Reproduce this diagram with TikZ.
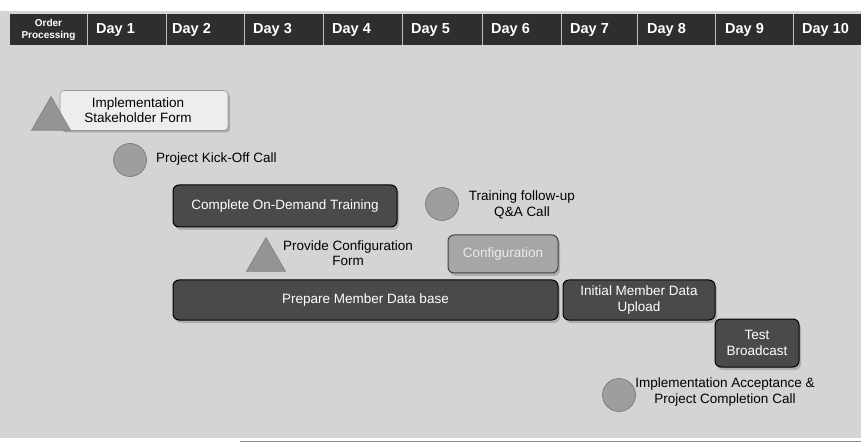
\documentclass[tikz,border=0pt]{standalone}
\usepackage{fontspec}
\setmainfont{Liberation Sans}
\usetikzlibrary{shadows,shapes.geometric}
\definecolor{bg}{HTML}{D4D4D4}
\definecolor{hdr}{HTML}{2E2E2E}
\definecolor{darkbox}{HTML}{4A4A4A}
\definecolor{lightbox}{HTML}{A6A6A6}
\definecolor{marker}{HTML}{9E9E9E}
\definecolor{labelbox}{HTML}{EDEDED}
\tikzset{
  darktask/.style={draw=black, line width=1pt, fill=darkbox, rounded corners=6pt,
    text=white, font=\fontsize{13.5}{15.5}\selectfont, align=center, inner sep=0pt,
    drop shadow={shadow xshift=2pt, shadow yshift=-3pt, opacity=0.45}},
  lighttask/.style={darktask, draw=black!75, fill=lightbox, text=white!92!black},
  call/.style={circle, draw=black!55, line width=0.6pt, fill=marker, minimum size=33pt, inner sep=0pt},
  form/.style={regular polygon, regular polygon sides=3, draw=black!50, line width=0.6pt,
    fill=marker!110!white, inner sep=0pt},
  lbl/.style={font=\fontsize{13.5}{15.5}\selectfont, text=black, align=center, inner sep=0pt},
  dayhead/.style={font=\fontsize{14.5}{16}\selectfont\bfseries, text=white, anchor=west, inner sep=0pt},
  divider/.style={draw=white!75!black, line width=0.8pt}
}
\begin{document}
\begin{tikzpicture}[x=1pt,y=-1pt]
\useasboundingbox (0,0) rectangle (861,443);
\fill[white] (0,0) rectangle (861,443);
\fill[bg] (0,11) rectangle (861,438);
\draw[black!45, line width=0.8pt] (240,441) -- (861,441);
% header
\fill[hdr] (10,14) rectangle (861,45);
\foreach \x in {87,166,244,323,402,482,561,637,715,793}
  \draw[divider] (\x,14) -- (\x,45);
\node[font=\fontsize{10}{11.5}\selectfont\bfseries, text=white, align=center, inner sep=0pt]
  (hop) at (48.5,30) {Order\\Processing};
\node[dayhead] (h1) at (96,30) {Day 1};
\node[dayhead] (h2) at (172,30) {Day 2};
\node[dayhead] (h3) at (253,30) {Day 3};
\node[dayhead] (h4) at (332,30) {Day 4};
\node[dayhead] (h5) at (411,30) {Day 5};
\node[dayhead] (h6) at (491,30) {Day 6};
\node[dayhead] (h7) at (570,30) {Day 7};
\node[dayhead] (h8) at (647,30) {Day 8};
\node[dayhead] (h9) at (725,30) {Day 9};
\node[dayhead] (h10) at (802,30) {Day 10};
% stakeholder form
\node[draw=black!40, line width=0.6pt, fill=labelbox, rounded corners=4pt, minimum width=168pt,
  minimum height=40pt, inner sep=0pt,
  drop shadow={shadow xshift=2pt, shadow yshift=-2pt, opacity=0.5}] (sbox) at (144,110.5) {};
\node[lbl] (stext) at (138,110) {Implementation\\Stakeholder Form};
\node[form, minimum size=45pt] (tri1) at (51,119) {};
% kick-off
\node[call] (c1) at (130,160) {};
\node[lbl, anchor=west] (t1) at (156,159) {Project Kick-Off Call};
% training
\node[darktask, minimum width=224pt, minimum height=42pt] (train) at (285,206) {Complete On-Demand Training};
\node[call] (c2) at (442,204) {};
\node[lbl] (t2) at (522,205) {Training follow-up\\Q\&A Call};
% configuration form
\node[form, minimum size=45pt] (tri2) at (266,260) {};
\node[lbl] (t3) at (348,253) {Provide Configuration\\Form};
\node[lighttask, minimum width=110pt, minimum height=38pt] (conf) at (503,254) {Configuration};
% data
\node[darktask, minimum width=385pt, minimum height=40pt] (prep) at (365.5,300) {Prepare Member Data base};
\node[darktask, minimum width=152pt, minimum height=40pt] (init) at (639,300) {Initial Member Data\\Upload};
\node[darktask, minimum width=84pt, minimum height=48pt] (test) at (757,343) {Test\\Broadcast};
% acceptance
\node[call] (c3) at (619,395) {};
\node[lbl] (t4) at (725,392) {Implementation Acceptance \&\\Project Completion Call};
\end{tikzpicture}
\end{document}
